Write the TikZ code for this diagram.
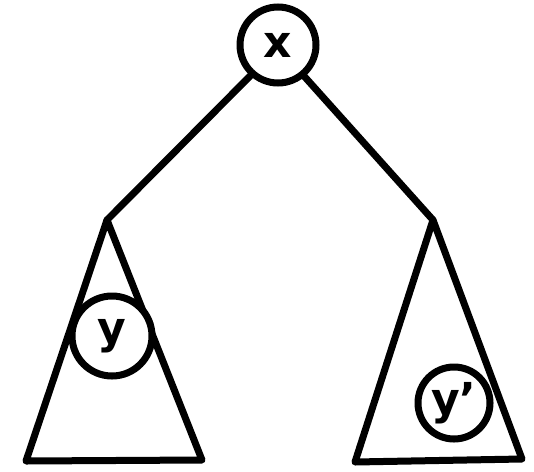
\documentclass[tikz,border=0pt]{standalone}
\usepackage{fontspec}
\setmainfont{DejaVu Sans}
\begin{document}
\begin{tikzpicture}[x=1pt,y=-1pt,
  stroke/.style={line width=7pt,line cap=round,line join=round},
  vtx/.style={circle,draw,line width=7pt,font=\fontsize{44}{44}\bfseries\selectfont,inner sep=0pt}]
\useasboundingbox (0,0) rectangle (534,471);
\node[vtx,minimum size=76pt] (x) at (278,45) {x};
\coordinate (la) at (107,220);
\coordinate (ll) at (26,461);
\coordinate (lr) at (202,460);
\coordinate (ra) at (433,220);
\coordinate (rl) at (355,462);
\coordinate (rr) at (522,459);
\draw[stroke] (x.228) -- (la);
\draw[stroke] (x.-50) -- (ra);
\draw[stroke] (la) -- (ll) -- (lr) -- cycle;
\draw[stroke] (ra) -- (rl) -- (rr) -- cycle;
\node[vtx,minimum size=80pt,fill=white] (y) at (112,336) {y};
\node[vtx,minimum size=72pt,fill=white] (yp) at (454,403) {y'};
\end{tikzpicture}
\end{document}
